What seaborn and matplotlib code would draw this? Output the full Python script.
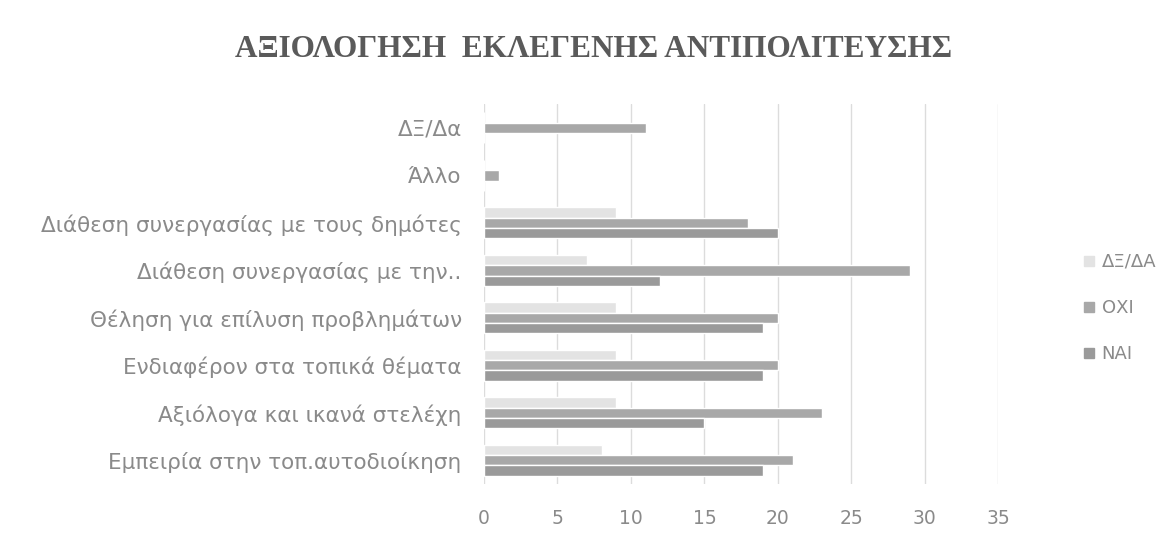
import pandas as pd
import seaborn as sns
import matplotlib.pyplot as plt
from matplotlib.lines import Line2D

# Κατηγορίες (από πάνω προς τα κάτω)
categories = ["ΔΞ/Δα",
              "Άλλο",
              "Διάθεση συνεργασίας με τους δημότες",
              "Διάθεση συνεργασίας με την..",
              "Θέληση για επίλυση προβλημάτων",
              "Ενδιαφέρον στα τοπικά θέματα",
              "Αξιόλογα και ικανά στελέχη",
              "Εμπειρία στην τοπ.αυτοδιοίκηση"]

series = ["ΔΞ/ΔΑ", "ΟΧΙ", "ΝΑΙ"]
dx_da = [0, 0, 9, 7, 9, 9, 9, 8]
oxi = [11, 1, 18, 29, 20, 20, 23, 21]
nai = [0, 0, 20, 12, 19, 19, 15, 19]

colors = {"ΔΞ/ΔΑ": "#e3e3e3", "ΟΧΙ": "#a8a8a8", "ΝΑΙ": "#9a9a9a"}

df = pd.DataFrame({"cat": categories * 3,
                   "series": [s for s in series for _ in categories],
                   "value": dx_da + oxi + nai})

sns.set_style("white")
plt.rcParams["font.family"] = ["DejaVu Sans"]

fig = plt.figure(figsize=(11.69, 5.42), dpi=100)
ax = fig.add_axes([0.414, 0.107, 0.44, 0.701])

sns.barplot(data=df, y="cat", x="value", hue="series",
            order=categories, hue_order=series,
            palette=colors, width=0.66, orient="h",
            legend=False, ax=ax)

ax.set_xlim(0, 35)
ax.set_xticks(range(0, 36, 5))
ax.xaxis.grid(True, color="#dcdcdc", linewidth=1)
ax.set_axisbelow(True)
for s in ax.spines.values():
    s.set_visible(False)
ax.set_xlabel("")
ax.set_ylabel("")
ax.tick_params(axis="both", length=0, colors="#8a8a8a")
ax.tick_params(axis="x", pad=18, labelsize=13.5)
ax.tick_params(axis="y", pad=16, labelsize=15.5)

fig.suptitle("ΑΞΙΟΛΟΓΗΣΗ  ΕΚΛΕΓΕΝΗΣ ΑΝΤΙΠΟΛΙΤΕΥΣΗΣ", x=0.508, y=0.935,
             fontsize=22.5, fontweight="bold", family="Liberation Serif",
             color="#5a5a5a")

handles = [Line2D([], [], marker="s", linestyle="", markersize=7,
                  color=colors[s]) for s in series]
fig.legend(handles, series, loc="center left", bbox_to_anchor=(0.91, 0.432),
           frameon=False, fontsize=13, labelcolor="#8a8a8a",
           labelspacing=1.55, handletextpad=0.2, handlelength=1.0)

plt.savefig("out.png", dpi=100)
plt.close()
